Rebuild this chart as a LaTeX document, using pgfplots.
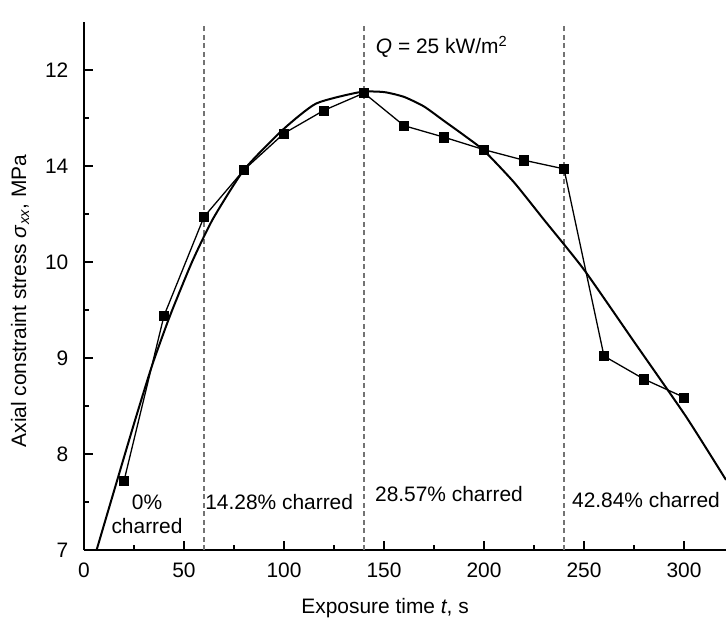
\documentclass[border=0pt]{standalone}
\usepackage{fontspec}
\setmainfont{Liberation Sans}
\usepackage{pgfplots}
\pgfplotsset{compat=1.18}
\begin{document}
\fontsize{21}{24}\selectfont
\begin{tikzpicture}
\begin{axis}[
  scale only axis, width=642bp, height=528bp,
  xmin=0, xmax=321, ymin=7, ymax=12.5,
  axis lines=left, axis line style={-, line width=1.6bp},
  tick align=inside, major tick length=9bp, minor tick length=5bp,
  tick style={black, line width=1.4bp},
  xtick={0,50,...,300}, minor x tick num=1,
  ytick={7,8,9,10,11,12}, yticklabels={7,8,9,10,14,12}, minor y tick num=1,
  /pgf/number format/assume math mode=true,
  yticklabel style={xshift=-8.5bp},
  xticklabel style={yshift=-5.5bp},
  xlabel={Exposure time \textit{t}, s},
  ylabel={Axial constraint stress \textit{σ}\textsubscript{\textit{xx}}, MPa},
  xlabel style={at={(axis description cs:0.469,-0.1098)}, anchor=center},
  ylabel style={at={(axis description cs:-0.0997,0.4716)}, anchor=center},
  clip=false,
]
\coordinate (O) at (rel axis cs:0,0);
\addplot[black!55, line width=1.3bp, dash pattern=on 5bp off 3.5bp] coordinates {(60,7) (60,12.47)};
\addplot[black!55, line width=1.3bp, dash pattern=on 5bp off 3.5bp] coordinates {(140,7) (140,12.47)};
\addplot[black!55, line width=1.3bp, dash pattern=on 5bp off 3.5bp] coordinates {(240,7) (240,12.47)};
% fitted curve
\addplot[black, line width=2bp, smooth, tension=0.35] coordinates {
(6.3,7.0) (16.5,7.72) (25.5,8.35) (34,8.92) (43,9.44) (54,10.0) (64.5,10.45)
(80,10.96) (99,11.37) (116,11.65) (138,11.77) (150,11.77) (160,11.72)
(170,11.62) (180,11.47) (190,11.32) (200,11.16) (215,10.83) (230,10.44)
(250,9.92) (275,9.17) (301,8.39) (321,7.73)};
% measured data
\addplot[black, line width=1.3bp] coordinates {
(20,7.72) (40,9.44) (60,10.47) (80,10.96) (100,11.34) (120,11.58) (140,11.76)
(160,11.42) (180,11.30) (200,11.17) (220,11.06) (240,10.97) (260,9.02)
(280,8.78) (300,8.59)};
\addplot[only marks, mark=square*, mark size=4.6bp, mark options={draw=none, fill=white}] coordinates {
(20,7.72) (40,9.44) (60,10.47) (80,10.96) (100,11.34) (120,11.58) (140,11.76)
(160,11.42) (180,11.30) (200,11.17) (220,11.06) (240,10.97) (260,9.02)
(280,8.78) (300,8.59)};
\addplot[only marks, mark=square*, mark size=3.6bp, mark options={draw=none, fill=black}] coordinates {
(20,7.72) (40,9.44) (60,10.47) (80,10.96) (100,11.34) (120,11.58) (140,11.76)
(160,11.42) (180,11.30) (200,11.17) (220,11.06) (240,10.97) (260,9.02)
(280,8.78) (300,8.59)};
\node at (axis cs:178.8,12.24) {\textit{Q} = 25 kW/m\textsuperscript{2}};
\node[align=center] at (axis cs:31.5,7.375) {0\%\\charred};
\node at (axis cs:97.6,7.5) {14.28\% charred};
\node at (axis cs:182.5,7.58) {28.57\% charred};
\node at (axis cs:281,7.52) {42.84\% charred};
\end{axis}
\pgfresetboundingbox
\path[use as bounding box] ([shift={(-84bp,-69bp)}]O) rectangle ([shift={(642bp,550bp)}]O);
\end{tikzpicture}
\end{document}
